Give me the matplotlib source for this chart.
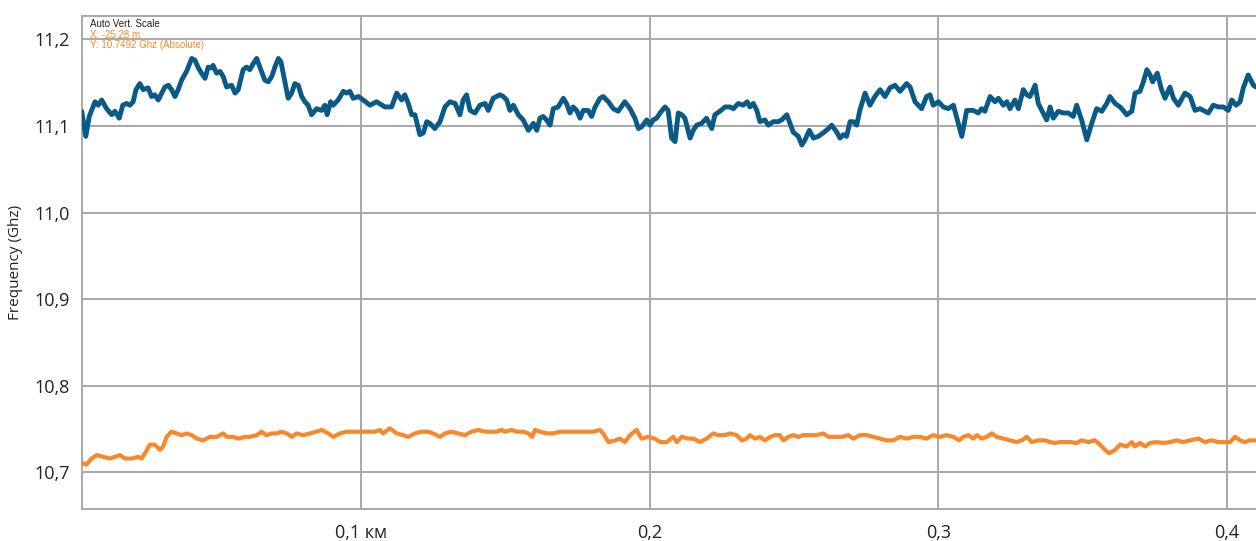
import matplotlib.pyplot as plt
from matplotlib.ticker import FixedLocator

# distance (km) / frequency (GHz) traces
dist_upper = [0.0033, 0.0047, 0.0059, 0.0079, 0.0090, 0.0102, 0.0119, 0.0137, 0.0148, 0.0163,
              0.0175, 0.0188, 0.0200, 0.0211, 0.0221, 0.0234, 0.0246, 0.0263, 0.0275, 0.0286,
              0.0298, 0.0310, 0.0321, 0.0333, 0.0344, 0.0356, 0.0367, 0.0379, 0.0396, 0.0414,
              0.0425, 0.0437, 0.0448, 0.0460, 0.0471, 0.0483, 0.0488, 0.0500, 0.0512, 0.0523,
              0.0535, 0.0552, 0.0564, 0.0575, 0.0592, 0.0604, 0.0615, 0.0627, 0.0639, 0.0650,
              0.0667, 0.0679, 0.0691, 0.0702, 0.0714, 0.0723, 0.0733, 0.0748, 0.0760, 0.0771,
              0.0783, 0.0795, 0.0806, 0.0817, 0.0829, 0.0846, 0.0864, 0.0875, 0.0883, 0.0895,
              0.0904, 0.0921, 0.0939, 0.0950, 0.0962, 0.0973, 0.0991, 0.1008, 0.1031, 0.1054,
              0.1083, 0.1106, 0.1124, 0.1141, 0.1152, 0.1164, 0.1176, 0.1187, 0.1204, 0.1216,
              0.1228, 0.1239, 0.1256, 0.1274, 0.1291, 0.1308, 0.1326, 0.1343, 0.1354, 0.1366,
              0.1378, 0.1395, 0.1412, 0.1430, 0.1441, 0.1458, 0.1481, 0.1493, 0.1505, 0.1516,
              0.1528, 0.1545, 0.1562, 0.1580, 0.1597, 0.1609, 0.1620, 0.1631, 0.1643, 0.1655,
              0.1666, 0.1683, 0.1701, 0.1712, 0.1724, 0.1735, 0.1747, 0.1759, 0.1770, 0.1787,
              0.1799, 0.1811, 0.1828, 0.1839, 0.1857, 0.1874, 0.1891, 0.1914, 0.1932, 0.1949,
              0.1961, 0.1972, 0.1990, 0.2001, 0.2012, 0.2024, 0.2036, 0.2053, 0.2064, 0.2076,
              0.2088, 0.2099, 0.2111, 0.2122, 0.2140, 0.2151, 0.2163, 0.2180, 0.2197, 0.2215,
              0.2226, 0.2243, 0.2261, 0.2278, 0.2290, 0.2307, 0.2324, 0.2338, 0.2347, 0.2359,
              0.2371, 0.2382, 0.2399, 0.2411, 0.2428, 0.2445, 0.2457, 0.2475, 0.2486, 0.2497,
              0.2515, 0.2527, 0.2538, 0.2553, 0.2567, 0.2584, 0.2601, 0.2619, 0.2630, 0.2648,
              0.2659, 0.2671, 0.2682, 0.2694, 0.2705, 0.2717, 0.2728, 0.2746, 0.2763, 0.2780,
              0.2798, 0.2815, 0.2832, 0.2850, 0.2867, 0.2890, 0.2902, 0.2919, 0.2942, 0.2959,
              0.2971, 0.2982, 0.3000, 0.3017, 0.3034, 0.3052, 0.3081, 0.3098, 0.3121, 0.3138,
              0.3150, 0.3161, 0.3179, 0.3196, 0.3208, 0.3225, 0.3237, 0.3248, 0.3265, 0.3277,
              0.3294, 0.3306, 0.3317, 0.3335, 0.3346, 0.3358, 0.3375, 0.3387, 0.3398, 0.3415,
              0.3433, 0.3450, 0.3467, 0.3479, 0.3496, 0.3514, 0.3531, 0.3548, 0.3566, 0.3583,
              0.3594, 0.3612, 0.3629, 0.3640, 0.3652, 0.3670, 0.3681, 0.3698, 0.3710, 0.3722,
              0.3733, 0.3742, 0.3758, 0.3773, 0.3785, 0.3802, 0.3814, 0.3831, 0.3854, 0.3872,
              0.3889, 0.3906, 0.3923, 0.3935, 0.3952, 0.3970, 0.3987, 0.4004, 0.4016, 0.4031,
              0.4045, 0.4056, 0.4073, 0.4091, 0.4100]
freq_upper = [11.117, 11.088, 11.111, 11.128, 11.124, 11.130, 11.120, 11.113, 11.117, 11.109,
              11.124, 11.126, 11.124, 11.128, 11.142, 11.149, 11.142, 11.144, 11.134, 11.136,
              11.130, 11.138, 11.145, 11.147, 11.142, 11.134, 11.142, 11.153, 11.163, 11.178,
              11.176, 11.167, 11.161, 11.155, 11.168, 11.167, 11.170, 11.161, 11.163, 11.157,
              11.145, 11.147, 11.138, 11.142, 11.165, 11.168, 11.165, 11.172, 11.178, 11.168,
              11.153, 11.151, 11.157, 11.168, 11.178, 11.174, 11.157, 11.132, 11.138, 11.149,
              11.147, 11.134, 11.128, 11.124, 11.113, 11.120, 11.118, 11.124, 11.113, 11.128,
              11.124, 11.130, 11.140, 11.138, 11.140, 11.132, 11.134, 11.130, 11.124, 11.128,
              11.122, 11.122, 11.138, 11.130, 11.136, 11.126, 11.113, 11.113, 11.090, 11.092,
              11.105, 11.103, 11.097, 11.105, 11.122, 11.128, 11.126, 11.113, 11.130, 11.136,
              11.118, 11.115, 11.124, 11.126, 11.118, 11.132, 11.136, 11.134, 11.130, 11.118,
              11.124, 11.113, 11.107, 11.095, 11.103, 11.095, 11.109, 11.111, 11.107, 11.101,
              11.120, 11.122, 11.132, 11.126, 11.115, 11.122, 11.118, 11.109, 11.118, 11.118,
              11.111, 11.122, 11.132, 11.134, 11.128, 11.120, 11.117, 11.128, 11.120, 11.109,
              11.097, 11.099, 11.107, 11.101, 11.107, 11.109, 11.115, 11.122, 11.118, 11.086,
              11.082, 11.115, 11.113, 11.109, 11.086, 11.095, 11.101, 11.103, 11.109, 11.097,
              11.113, 11.117, 11.122, 11.122, 11.120, 11.126, 11.124, 11.128, 11.122, 11.126,
              11.118, 11.105, 11.107, 11.101, 11.105, 11.105, 11.107, 11.113, 11.103, 11.093,
              11.088, 11.078, 11.084, 11.095, 11.086, 11.088, 11.092, 11.097, 11.101, 11.093,
              11.086, 11.090, 11.088, 11.105, 11.105, 11.101, 11.118, 11.138, 11.124, 11.134,
              11.142, 11.134, 11.144, 11.147, 11.140, 11.149, 11.145, 11.128, 11.120, 11.134,
              11.136, 11.124, 11.128, 11.122, 11.120, 11.124, 11.088, 11.118, 11.118, 11.115,
              11.120, 11.117, 11.134, 11.128, 11.132, 11.124, 11.128, 11.120, 11.130, 11.120,
              11.142, 11.136, 11.134, 11.147, 11.126, 11.118, 11.107, 11.122, 11.109, 11.117,
              11.115, 11.115, 11.111, 11.124, 11.107, 11.084, 11.103, 11.120, 11.117, 11.126,
              11.134, 11.126, 11.122, 11.118, 11.113, 11.117, 11.138, 11.140, 11.151, 11.165,
              11.159, 11.151, 11.161, 11.142, 11.132, 11.145, 11.132, 11.124, 11.138, 11.134,
              11.118, 11.120, 11.117, 11.115, 11.124, 11.122, 11.122, 11.118, 11.130, 11.124,
              11.128, 11.144, 11.159, 11.147, 11.145]

dist_lower = [0.0033, 0.0050, 0.0067, 0.0085, 0.0107, 0.0131, 0.0148, 0.0165, 0.0183, 0.0206,
              0.0229, 0.0240, 0.0252, 0.0269, 0.0286, 0.0304, 0.0315, 0.0327, 0.0344, 0.0362,
              0.0379, 0.0396, 0.0414, 0.0431, 0.0454, 0.0477, 0.0500, 0.0523, 0.0535, 0.0558,
              0.0575, 0.0598, 0.0615, 0.0639, 0.0656, 0.0673, 0.0691, 0.0708, 0.0725, 0.0743,
              0.0760, 0.0777, 0.0800, 0.0823, 0.0846, 0.0864, 0.0887, 0.0904, 0.0927, 0.0950,
              0.0968, 0.0985, 0.1008, 0.1031, 0.1048, 0.1066, 0.1077, 0.1100, 0.1124, 0.1147,
              0.1164, 0.1187, 0.1210, 0.1233, 0.1250, 0.1274, 0.1291, 0.1314, 0.1337, 0.1360,
              0.1383, 0.1406, 0.1430, 0.1453, 0.1470, 0.1487, 0.1499, 0.1522, 0.1539, 0.1562,
              0.1580, 0.1593, 0.1603, 0.1620, 0.1643, 0.1666, 0.1689, 0.1712, 0.1735, 0.1759,
              0.1782, 0.1805, 0.1828, 0.1839, 0.1857, 0.1880, 0.1897, 0.1914, 0.1932, 0.1955,
              0.1972, 0.1995, 0.2018, 0.2036, 0.2059, 0.2082, 0.2094, 0.2111, 0.2134, 0.2151,
              0.2174, 0.2197, 0.2220, 0.2238, 0.2261, 0.2278, 0.2301, 0.2319, 0.2336, 0.2347,
              0.2365, 0.2382, 0.2399, 0.2417, 0.2434, 0.2451, 0.2463, 0.2480, 0.2497, 0.2515,
              0.2532, 0.2555, 0.2578, 0.2601, 0.2619, 0.2642, 0.2665, 0.2688, 0.2705, 0.2728,
              0.2752, 0.2775, 0.2798, 0.2821, 0.2844, 0.2867, 0.2890, 0.2913, 0.2936, 0.2959,
              0.2982, 0.3006, 0.3029, 0.3052, 0.3072, 0.3086, 0.3104, 0.3121, 0.3133, 0.3150,
              0.3167, 0.3185, 0.3202, 0.3225, 0.3248, 0.3271, 0.3289, 0.3306, 0.3323, 0.3346,
              0.3369, 0.3387, 0.3404, 0.3421, 0.3439, 0.3456, 0.3479, 0.3496, 0.3519, 0.3542,
              0.3560, 0.3577, 0.3592, 0.3612, 0.3629, 0.3652, 0.3670, 0.3681, 0.3698, 0.3716,
              0.3733, 0.3756, 0.3779, 0.3802, 0.3825, 0.3848, 0.3872, 0.3900, 0.3923, 0.3947,
              0.3970, 0.3993, 0.4010, 0.4027, 0.4045, 0.4062, 0.4079, 0.4100]
freq_lower = [10.711, 10.709, 10.716, 10.720, 10.718, 10.716, 10.718, 10.720, 10.716, 10.716,
              10.718, 10.716, 10.722, 10.732, 10.732, 10.726, 10.730, 10.741, 10.747, 10.745,
              10.743, 10.745, 10.743, 10.739, 10.737, 10.741, 10.741, 10.745, 10.741, 10.741,
              10.739, 10.741, 10.741, 10.743, 10.747, 10.743, 10.745, 10.745, 10.747, 10.745,
              10.741, 10.745, 10.743, 10.745, 10.747, 10.749, 10.745, 10.741, 10.745, 10.747,
              10.747, 10.747, 10.747, 10.747, 10.747, 10.749, 10.745, 10.751, 10.745, 10.743,
              10.741, 10.745, 10.747, 10.747, 10.745, 10.741, 10.745, 10.747, 10.745, 10.743,
              10.747, 10.749, 10.747, 10.747, 10.747, 10.749, 10.747, 10.749, 10.747, 10.747,
              10.745, 10.741, 10.749, 10.747, 10.745, 10.745, 10.747, 10.747, 10.747, 10.747,
              10.747, 10.747, 10.749, 10.745, 10.735, 10.737, 10.739, 10.735, 10.743, 10.749,
              10.739, 10.741, 10.739, 10.735, 10.735, 10.741, 10.735, 10.741, 10.739, 10.739,
              10.735, 10.739, 10.745, 10.743, 10.743, 10.745, 10.743, 10.737, 10.739, 10.743,
              10.739, 10.741, 10.737, 10.741, 10.743, 10.743, 10.737, 10.741, 10.743, 10.741,
              10.743, 10.743, 10.743, 10.745, 10.741, 10.741, 10.741, 10.743, 10.739, 10.743,
              10.743, 10.741, 10.739, 10.737, 10.737, 10.741, 10.739, 10.741, 10.741, 10.739,
              10.743, 10.741, 10.743, 10.741, 10.737, 10.741, 10.743, 10.739, 10.743, 10.739,
              10.741, 10.745, 10.741, 10.739, 10.737, 10.735, 10.737, 10.741, 10.735, 10.737,
              10.737, 10.735, 10.734, 10.735, 10.735, 10.735, 10.734, 10.737, 10.735, 10.737,
              10.732, 10.726, 10.722, 10.726, 10.732, 10.730, 10.735, 10.730, 10.734, 10.730,
              10.734, 10.735, 10.734, 10.735, 10.737, 10.735, 10.737, 10.739, 10.735, 10.737,
              10.735, 10.735, 10.735, 10.741, 10.737, 10.735, 10.737, 10.737]

y_ticks = [10.7, 10.8, 10.9, 11.0, 11.1, 11.2]
y_labels = ["10,7", "10,8", "10,9", "11,0", "11,1", "11,2"]
x_ticks = [0.1, 0.2, 0.3, 0.4]
x_labels = ["0,1 км", "0,2", "0,3", "0,4"]

BLUE = "#0a5a87"
ORANGE = "#f7892a"
GRID = "#a8a8a8"

plt.rcParams['font.family'] = ['Open Sans', 'DejaVu Sans']

fig = plt.figure(figsize=(12.56, 5.41), dpi=100)
ax = fig.add_axes([0.0653, 0.0591, 0.9347, 0.9113])

ax.plot(dist_upper, freq_upper, color=BLUE, lw=3.5, solid_joinstyle='round',
        solid_capstyle='round', zorder=3)
ax.plot(dist_lower, freq_lower, color=ORANGE, lw=3.0, solid_joinstyle='round',
        solid_capstyle='round', zorder=3)

ax.set_xlim(0.0034, 0.4100)
ax.set_ylim(10.6577, 11.227)

ax.yaxis.set_major_locator(FixedLocator(y_ticks))
ax.set_yticklabels(y_labels)
ax.xaxis.set_major_locator(FixedLocator(x_ticks))
ax.set_xticklabels(x_labels)
ax.tick_params(axis='both', length=0, labelsize=13, colors='#222222')
ax.tick_params(axis='y', pad=9)
ax.tick_params(axis='x', pad=11)

ax.grid(True, color=GRID, lw=1.4, zorder=0)
for side in ['left', 'top', 'bottom']:
    ax.spines[side].set_color(GRID)
    ax.spines[side].set_linewidth(1.4)
ax.spines['right'].set_visible(False)

ax.set_ylabel("Frequency (Ghz)", fontsize=11, color='#222222', labelpad=8)

# cursor readout box in the upper left corner
ax.text(0.0067, 0.993, "Auto Vert. Scale", transform=ax.transAxes, fontsize=7,
        family='Liberation Sans', color='#222222', va='top')
ax.text(0.0067, 0.9726, "X: -25,28 m", transform=ax.transAxes, fontsize=7,
        family='Liberation Sans', color=ORANGE, va='top')
ax.text(0.0067, 0.9523, "Y: 10.7492 Ghz (Absolute)", transform=ax.transAxes, fontsize=7,
        family='Liberation Sans', color=ORANGE, va='top')

fig.savefig("out.png", dpi=100)
